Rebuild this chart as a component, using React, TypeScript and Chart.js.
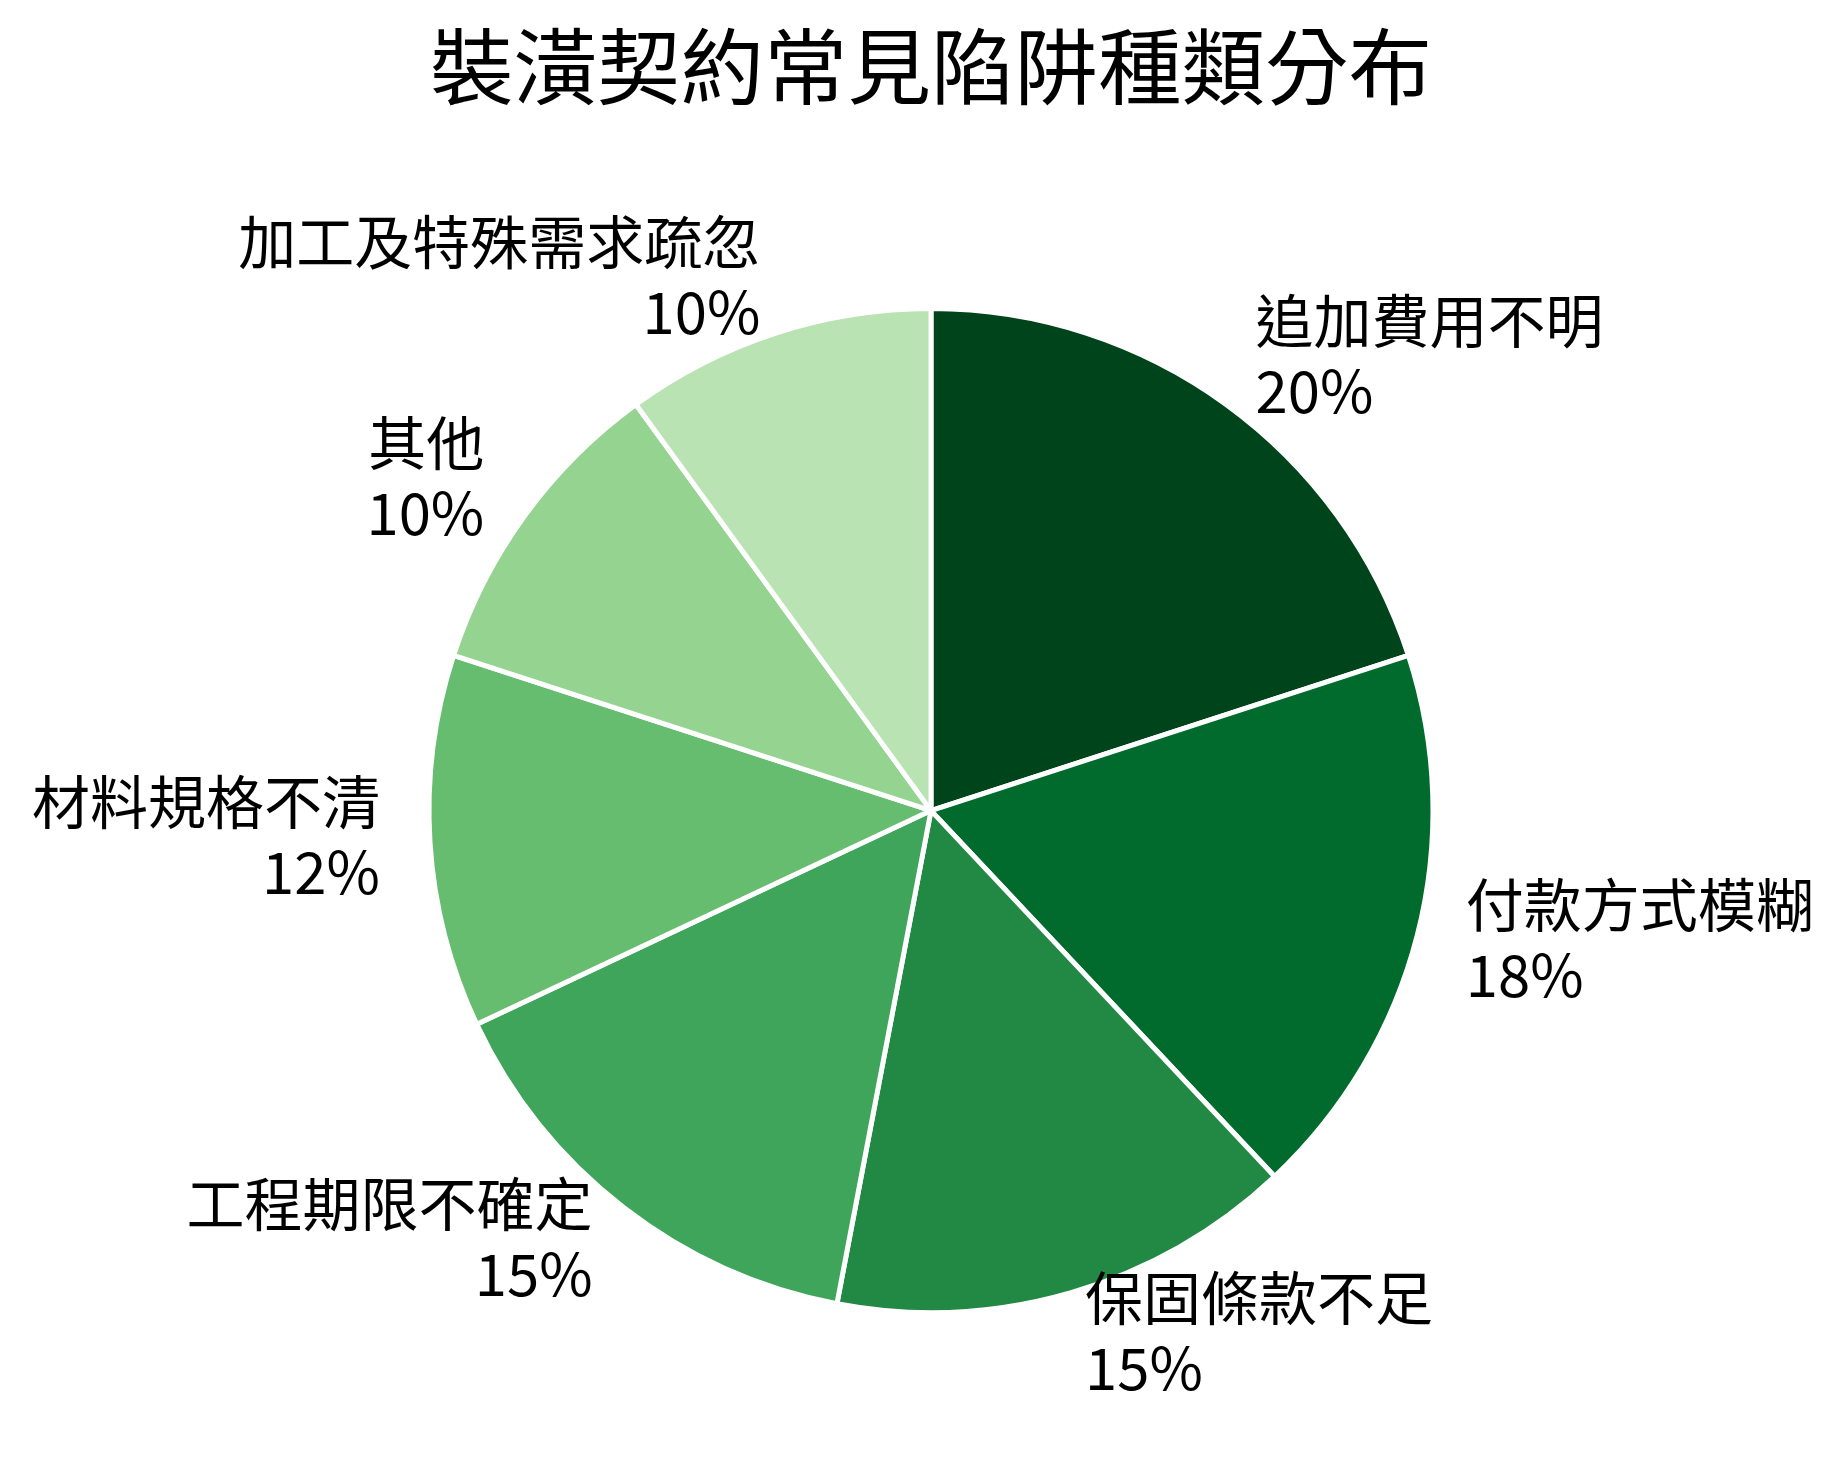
import React, { useEffect, useRef } from 'react'
import { Chart, ArcElement, PieController, Title, type ChartConfiguration, type Plugin } from 'chart.js'

Chart.register(ArcElement, PieController, Title)

const categories = ['追加費用不明', '付款方式模糊', '保固條款不足', '工程期限不確定', '材料規格不清', '其他', '加工及特殊需求疏忽']
const shares = [20, 18, 15, 15, 12, 10, 10]
const sliceColors = ['#00441b', '#006b2c', '#218944', '#3ea55a', '#67bd6f', '#94d390', '#b9e3b2']

const FONT = '"Noto Sans CJK TC", "Noto Sans CJK SC", "Noto Sans", sans-serif'
const LABEL_SIZE = 58
const LINE_GAP = 70

// outside labels, matplotlib style: anchor at 1.1r on the mid angle, left/right aligned by side
const outsideLabels: Plugin<'pie'> = {
  id: 'outsideLabels',
  afterDatasetsDraw(chart) {
    const { ctx } = chart
    const meta = chart.getDatasetMeta(0)
    ctx.save()
    ctx.fillStyle = '#000000'
    ctx.font = `${LABEL_SIZE}px ${FONT}`
    ctx.textBaseline = 'middle'
    meta.data.forEach((el: any, i) => {
      const { x, y, startAngle, endAngle, outerRadius } = el.getProps(['x', 'y', 'startAngle', 'endAngle', 'outerRadius'], true)
      const mid = (startAngle + endAngle) / 2
      const r = outerRadius * 1.1
      const ax = x + Math.cos(mid) * r
      const ay = y + Math.sin(mid) * r - 8
      ctx.textAlign = Math.cos(mid) >= 0 ? 'left' : 'right'
      ctx.fillText(categories[i], ax, ay - LINE_GAP / 2)
      ctx.fillText(`${shares[i]}%`, ax, ay + LINE_GAP / 2)
    })
    ctx.restore()
  },
}

export default function App() {
  const canvasRef = useRef<HTMLCanvasElement>(null)
  const chartRef = useRef<Chart<'pie'> | null>(null)

  useEffect(() => {
    document.body.style.margin = '0'
    if (!canvasRef.current) return
    chartRef.current?.destroy()

    const cfg: ChartConfiguration<'pie'> = {
      type: 'pie',
      data: {
        labels: categories,
        datasets: [{
          data: shares,
          backgroundColor: sliceColors,
          borderColor: '#ffffff',
          borderWidth: 5,
        }],
      },
      options: {
        responsive: true,
        maintainAspectRatio: false,
        animation: false,
        radius: 502,
        layout: { padding: { left: 14, right: 0, top: 0, bottom: 0 } },
        plugins: {
          legend: { display: false },
          tooltip: { enabled: false },
          title: {
            display: true,
            text: '裝潢契約常見陷阱種類分布',
            color: '#000000',
            font: { family: FONT, size: 83.5, weight: 'normal', lineHeight: 1.2 },
            padding: { top: 16, bottom: 37 },
          },
        },
      },
      plugins: [outsideLabels],
    }
    chartRef.current = new Chart(canvasRef.current, cfg)
    return () => { chartRef.current?.destroy() }
  }, [])

  return (
    <div style={{ position: 'relative', width: 1848, height: 1468, background: '#ffffff' }}>
      <canvas ref={canvasRef} />
    </div>
  )
}
